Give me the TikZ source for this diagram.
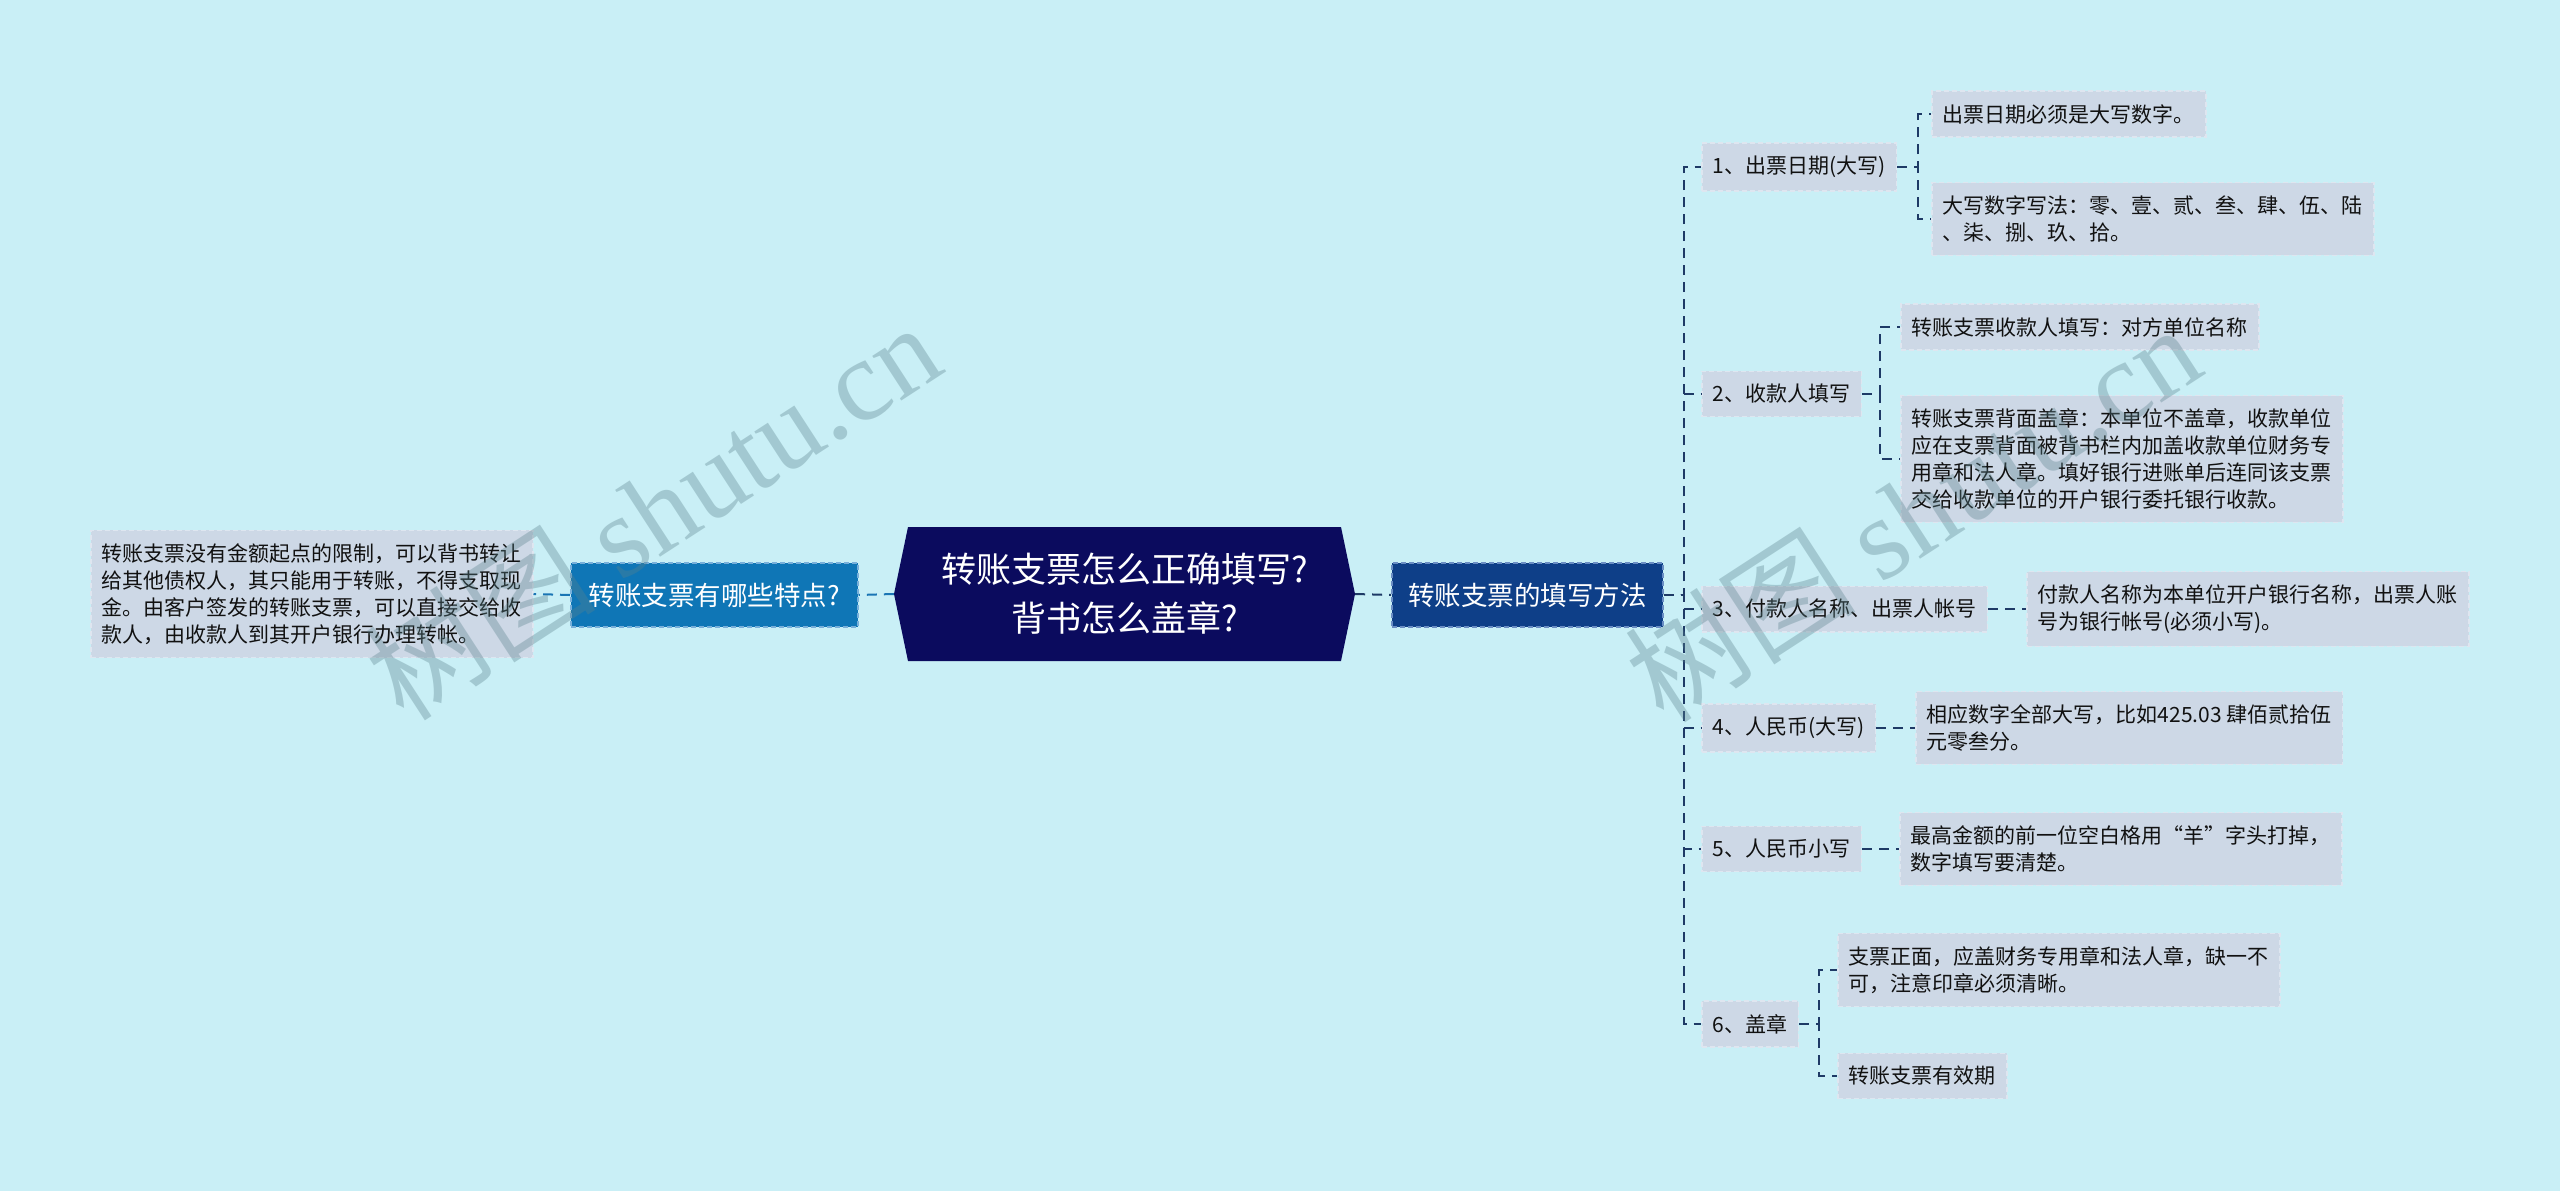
\documentclass[tikz,border=0pt]{standalone}
\usepackage{fontspec}
\setmainfont{Noto Sans CJK SC}
\newfontfamily\wmlatin{Liberation Serif}
\usetikzlibrary{calc}
\definecolor{bgc}{HTML}{C9EFF6}
\definecolor{leafc}{HTML}{CDD8E6}
\definecolor{leafb}{HTML}{DEE6F0}
\definecolor{rootc}{HTML}{0B0B5E}
\definecolor{rbc}{HTML}{0E3F88}
\definecolor{rbb}{HTML}{6A8EC4}
\definecolor{lbc}{HTML}{0F76B6}
\definecolor{lbb}{HTML}{78B0DA}
\definecolor{connr}{HTML}{1E3A66}
\definecolor{connl}{HTML}{1A75B4}
\definecolor{txt}{HTML}{111111}
\definecolor{wm}{HTML}{5A828C}
\tikzset{
  leaf/.style={fill=leafc, draw=leafb, dash pattern=on 5pt off 3pt, line width=1.5pt,
    text=txt, font=\fontsize{21}{27}\selectfont, align=left, inner xsep=11pt,
    inner ysep=13pt, anchor=west},
  lvone/.style={dash pattern=on 5pt off 3pt, line width=1.5pt, text=white,
    font=\fontsize{26.5}{32}\selectfont, minimum height=64pt, inner sep=0pt,
    anchor=west, align=center},
  rootnode/.style={minimum width=461pt, minimum height=134pt, inner sep=0pt,
    text=white, align=center, font=\fontsize{35}{49}\selectfont,
    path picture={\fill[rootc] (path picture bounding box.west)
      -- ([xshift=14pt]path picture bounding box.north west)
      -- ([xshift=-14pt]path picture bounding box.north east)
      -- (path picture bounding box.east)
      -- ([xshift=-14pt]path picture bounding box.south east)
      -- ([xshift=14pt]path picture bounding box.south west) -- cycle;}},
  connR/.style={draw=connr, line width=2pt, dash pattern=on 10pt off 7pt},
  connL/.style={draw=connl, line width=2pt, dash pattern=on 10pt off 7pt},
  wmk/.style={text=wm, opacity=0.35, rotate=33, font=\fontsize{116}{116}\selectfont, inner sep=0pt}
}
\begin{document}
\begin{tikzpicture}[x=1pt,y=-1pt]
\fill[bgc] (0,0) rectangle (2560,1191);
\useasboundingbox (0,0) rectangle (2560,1191);

% root and first level
\node[rootnode] (root) at (1124.5,594) {转账支票怎么正确填写?\\背书怎么盖章?};
\node[lvone, fill=rbc, draw=rbb, minimum width=271pt] (q1) at (1391,595) {转账支票的填写方法};
\node[lvone, fill=lbc, draw=lbb, minimum width=287pt] (q2) at (570,595) {转账支票有哪些特点?};
\node[leaf] (lf) at (90,594) {转账支票没有金额起点的限制，可以背书转让\\给其他债权人，其只能用于转账，不得支取现\\金。由客户签发的转账支票，可以直接交给收\\款人，由收款人到其开户银行办理转帐。};

% second level
\node[leaf] (a1) at (1701,167) {1、出票日期(大写)};
\node[leaf] (a2) at (1701,394) {2、收款人填写};
\node[leaf] (a3) at (1701,609) {3、付款人名称、出票人帐号};
\node[leaf] (a4) at (1701,728) {4、人民币(大写)};
\node[leaf] (a5) at (1701,849) {5、人民币小写};
\node[leaf] (a6) at (1701,1024) {6、盖章};

% third level
\node[leaf] (b11) at (1931,114) {出票日期必须是大写数字。};
\node[leaf] (b12) at (1931,219) {大写数字写法：零、壹、贰、叁、肆、伍、陆\\、柒、捌、玖、拾。};
\node[leaf] (b21) at (1900,327) {转账支票收款人填写：对方单位名称};
\node[leaf] (b22) at (1900,459) {转账支票背面盖章：本单位不盖章，收款单位\\应在支票背面被背书栏内加盖收款单位财务专\\用章和法人章。填好银行进账单后连同该支票\\交给收款单位的开户银行委托银行收款。};
\node[leaf] (b31) at (2026,609) {付款人名称为本单位开户银行名称，出票人账\\号为银行帐号(必须小写)。};
\node[leaf] (b41) at (1915,728) {相应数字全部大写，比如425.03 肆佰贰拾伍\\元零叁分。};
\node[leaf] (b51) at (1899,849) {最高金额的前一位空白格用“羊”字头打掉，\\数字填写要清楚。};
\node[leaf] (b61) at (1837,970) {支票正面，应盖财务专用章和法人章，缺一不\\可，注意印章必须清晰。};
\node[leaf] (b62) at (1837,1076) {转账支票有效期};

% connectors
\draw[connL] (root.west) -- (q2.east);
\draw[connL] (q2.west) -- (lf.east);
\draw[connR] (root.east) -- (q1.east -| q1.west);
\foreach \c in {a1,a2,a3,a4,a5,a6}{
  \draw[connR] (q1.east) -- ++(20,0) |- (\c.west);
}
\foreach \c in {b11,b12}{ \draw[connR] (a1.east) -- ++(21,0) |- (\c.west); }
\foreach \c in {b21,b22}{ \draw[connR] (a2.east) -- ++(18,0) |- (\c.west); }
\draw[connR] (a3.east) -- (b31.west);
\draw[connR] (a4.east) -- (b41.west);
\draw[connR] (a5.east) -- (b51.west);
\foreach \c in {b61,b62}{ \draw[connR] (a6.east) -- ++(20,0) |- (\c.west); }

% watermarks
\node[wmk] (wm1) at (652,510) {树图 {\wmlatin shutu.cn}};
\node[wmk] (wm2) at (1912,512) {树图 {\wmlatin shutu.cn}};
\end{tikzpicture}
\end{document}
